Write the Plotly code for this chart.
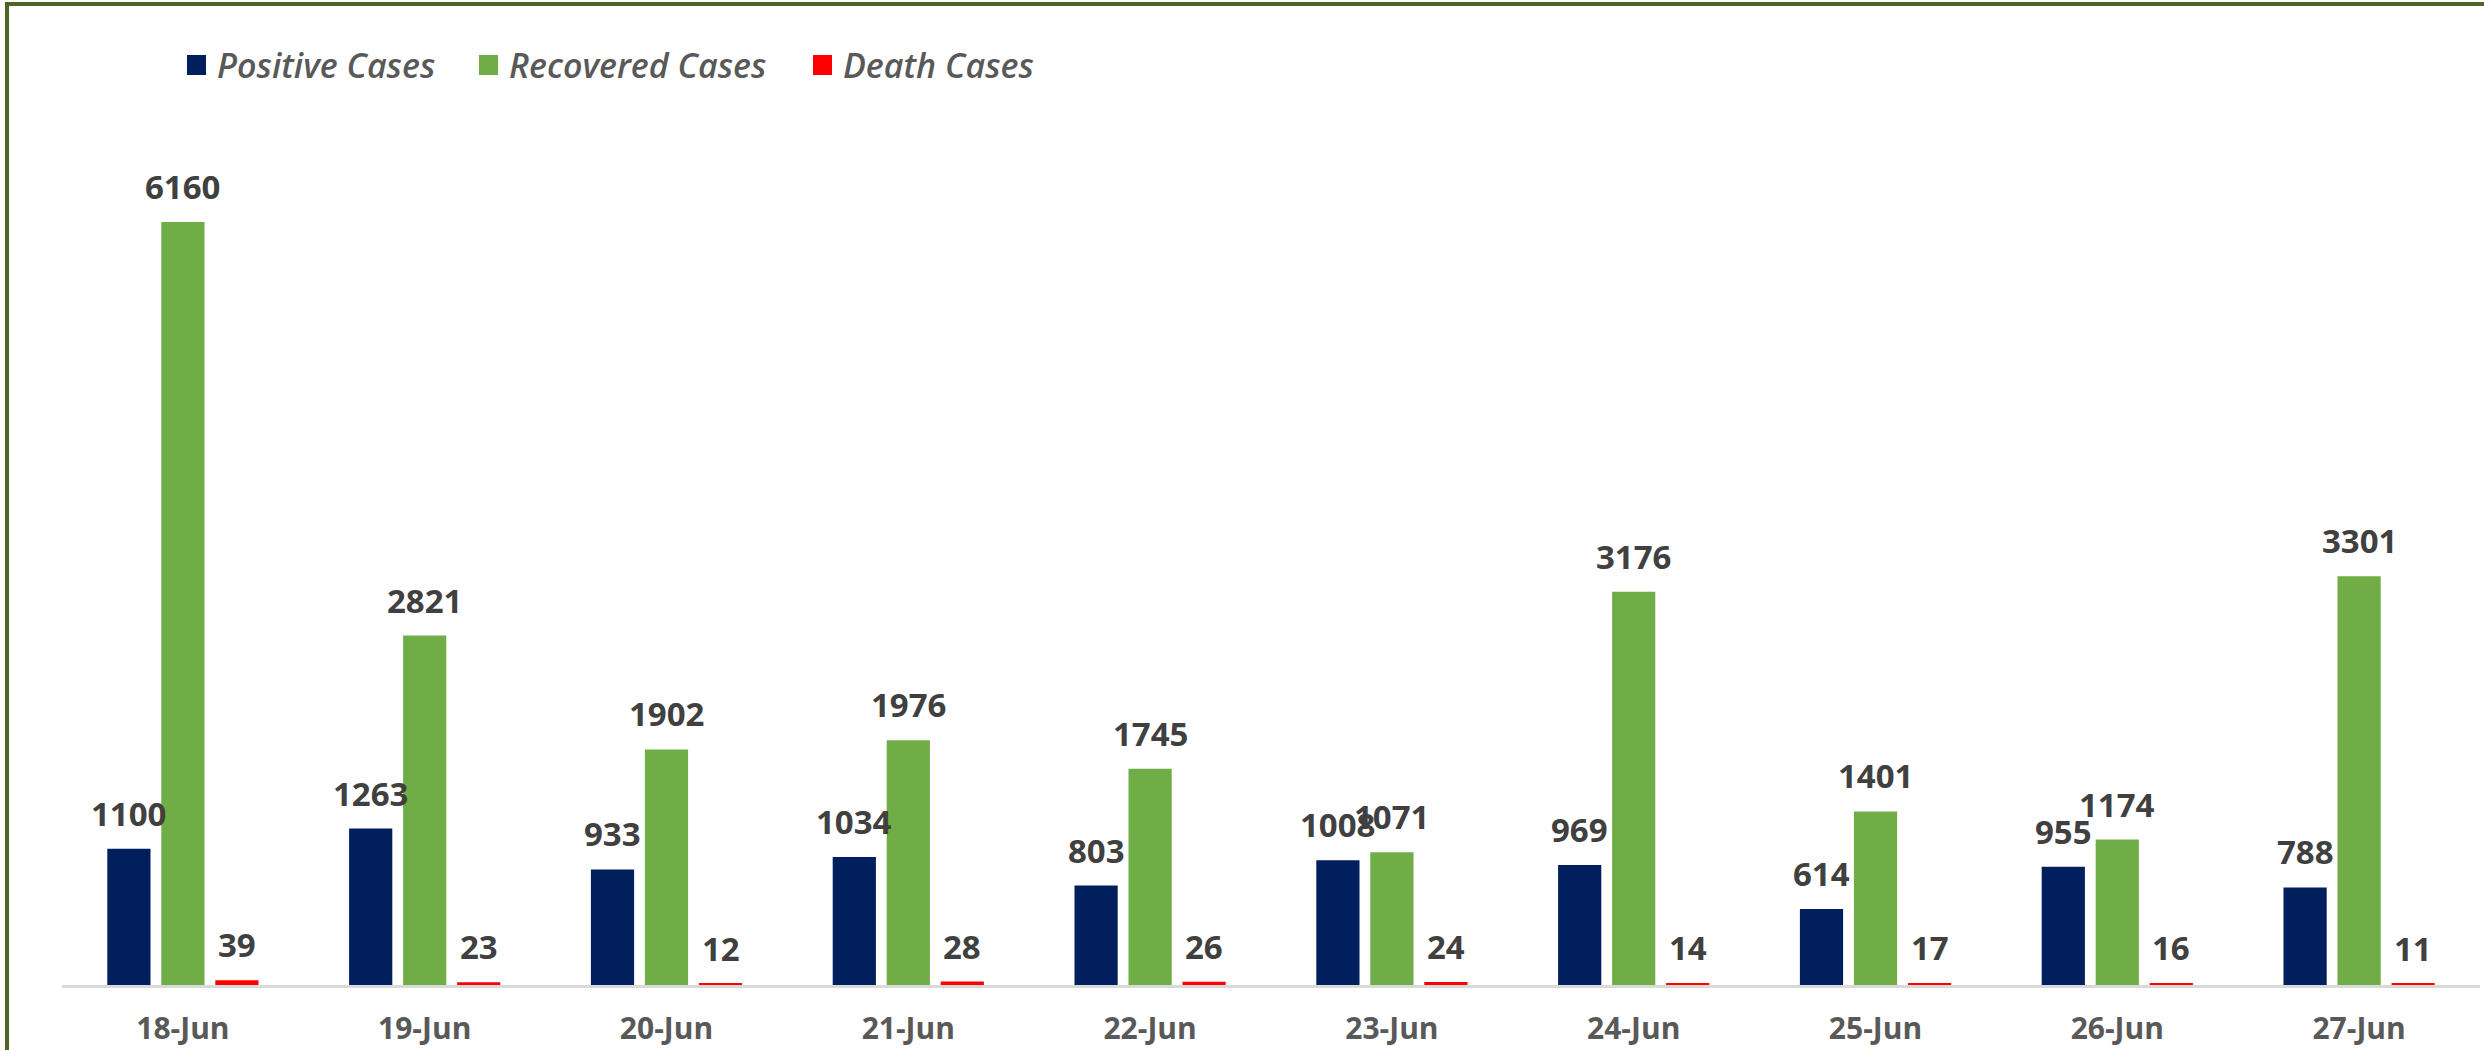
import plotly.graph_objects as go

dates = ["18-Jun", "19-Jun", "20-Jun", "21-Jun", "22-Jun", "23-Jun", "24-Jun", "25-Jun", "26-Jun", "27-Jun"]
positive = [1100, 1263, 933, 1034, 803, 1008, 969, 614, 955, 788]
recovered = [6160, 2821, 1902, 1976, 1745, 1071, 3176, 1401, 1174, 3301]
deaths = [39, 23, 12, 28, 26, 24, 14, 17, 16, 11]

series_names = ["Positive Cases", "Recovered Cases", "Death Cases"]
series_values = [positive, recovered, deaths]
series_colors = ["#001F5C", "#70AD47", "#FF0000"]

W_FIG, H_FIG = 2484, 1050
L, R, T, B = 62, 4, 118, 65
PW = W_FIG - L - R
PH = H_FIG - T - B
YMAX = 7000


def px_x(x):
    return (x - L) / PW


def px_y(y):
    return (H_FIG - B - y) / PH


fig = go.Figure()
for name, vals, col in zip(series_names, series_values, series_colors):
    fig.add_trace(go.Bar(x=dates, y=vals, name=name, marker_color=col,
                         marker_line_width=0, showlegend=False))

annotations = []
shifts = [-54, 0, 54]
for vals, sh in zip(series_values, shifts):
    for d, v in zip(dates, vals):
        annotations.append(dict(x=d, y=v, xref="x", yref="y", text=str(v), showarrow=False,
                                xshift=sh, yshift=11, yanchor="bottom", xanchor="center",
                                font=dict(family="Open Sans", size=33, color="#404040", weight="bold")))

# custom legend
leg_sq_x = [187, 479, 813]
for name, col, sx in zip(series_names, series_colors, leg_sq_x):
    annotations.append(dict(x=px_x(sx + 28), y=px_y(65), xref="paper", yref="paper", text=name,
                            showarrow=False, xanchor="left", yanchor="middle",
                            font=dict(family="Open Sans", size=34, color="#595959", style="italic",
                                      weight=600)))

shapes = []
for col, sx in zip(series_colors, leg_sq_x):
    shapes.append(dict(type="rect", xref="paper", yref="paper", x0=px_x(sx), x1=px_x(sx + 19),
                       y0=px_y(75), y1=px_y(55), fillcolor=col, line_width=0))
# outer frame
shapes.append(dict(type="rect", xref="paper", yref="paper", x0=px_x(7), x1=px_x(2500),
                   y0=px_y(1070), y1=px_y(4), line=dict(color="#4F6228", width=4),
                   fillcolor="rgba(0,0,0,0)", layer="above"))

fig.update_layout(
    width=W_FIG, height=H_FIG, autosize=False,
    margin=dict(l=L, r=R, t=T, b=B, pad=0, autoexpand=False),
    paper_bgcolor="white", plot_bgcolor="white",
    barmode="group", bargap=0.33, bargroupgap=0.2,
    annotations=annotations, shapes=shapes,
    xaxis=dict(showline=True, linecolor="#D9D9D9", linewidth=3, ticks="outside", ticklen=15,
               tickcolor="rgba(0,0,0,0)", showgrid=False, automargin=False,
               tickfont=dict(family="Open Sans", size=30, color="#595959", weight="bold")),
    yaxis=dict(range=[0, YMAX], visible=False, showgrid=False, automargin=False),
)

fig.write_html("out.html", config={"displayModeBar": False},
               post_script="document.body.style.margin='0px';document.body.style.overflow='hidden';")
